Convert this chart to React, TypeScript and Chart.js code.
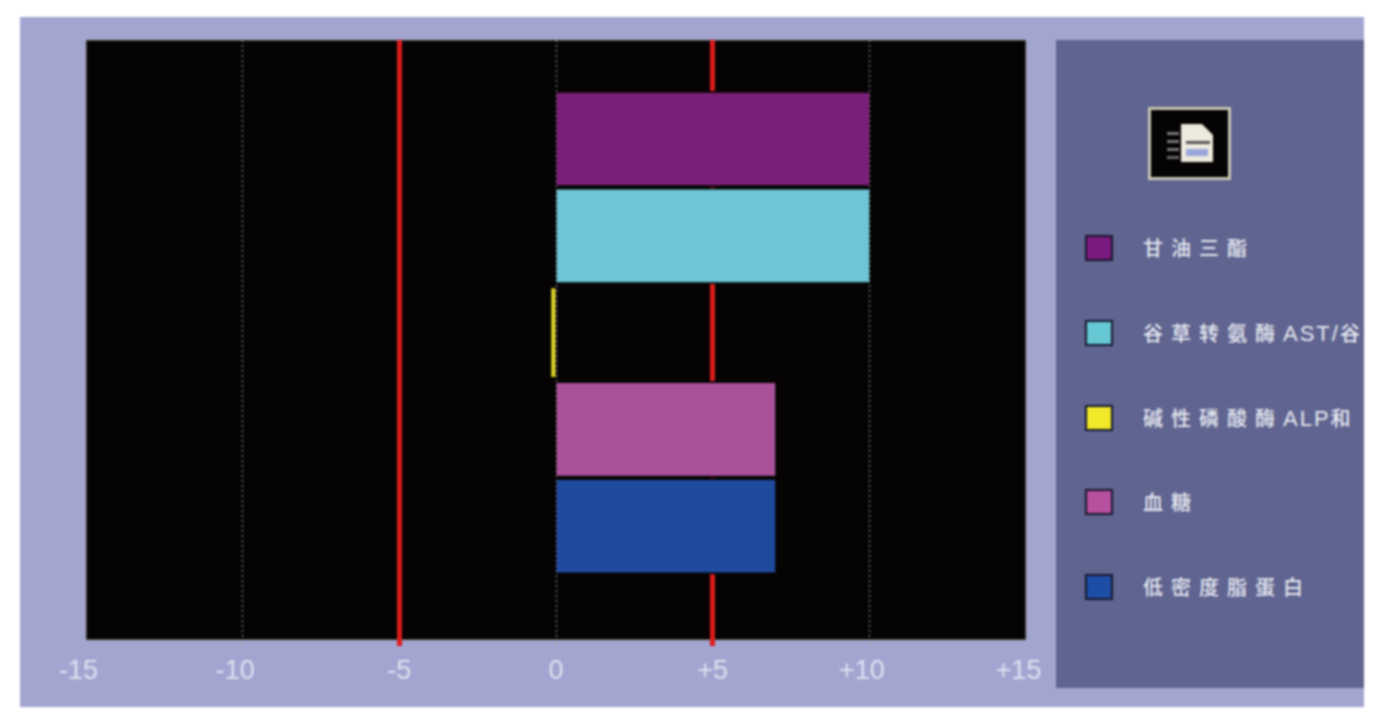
import React, { useEffect, useRef } from "react";
import { Chart, registerables } from "chart.js";

Chart.register(...registerables);

const legendLabels = ["甘油三酯", "谷草转氨酶AST/谷", "碱性磷酸酶ALP和", "血糖", "低密度脂蛋白"];
const seriesValues = [10, 10, -0.15, 7, 7];
const barColors = ["#7a1f78", "#6dc5d6", "#e6dc28", "#ab519b", "#1f4a9e"];
const swatchColors = ["#7c1a80", "#66c8d4", "#f0e828", "#b850a0", "#1c4ea8"];
const xTicks = [-15, -10, -5, 0, 5, 10, 15];

const tickText = (v: number) => {
  const s = v > 0 ? `+${v}` : `${v}`;
  return Math.abs(v) >= 10 ? `${s}  ` : s;
};

const plotBackground = {
  id: "plotBackground",
  beforeDraw(chart: any) {
    const { ctx, chartArea: a } = chart;
    ctx.save();
    ctx.fillStyle = "#050303";
    ctx.fillRect(a.left, a.top, a.right - a.left, a.bottom - a.top);
    ctx.strokeStyle = "#8a8a92";
    ctx.lineWidth = 1;
    ctx.strokeRect(a.left, a.top, a.right - a.left, a.bottom - a.top);
    ctx.restore();
  },
};

function LegendText({ text }: { text: string }) {
  const runs = text.match(/[\u4e00-\u9fff]+|[^\u4e00-\u9fff]+/g) || [];
  return (
    <>
      {runs.map((r, i) => (
        <span
          key={i}
          style={
            /[\u4e00-\u9fff]/.test(r)
              ? { letterSpacing: 8, fontWeight: 500 }
              : { letterSpacing: 2, fontSize: 22, fontFamily: "'Liberation Sans', sans-serif" }
          }
        >
          {r}
        </span>
      ))}
    </>
  );
}

export default function App() {
  const ref = useRef<HTMLCanvasElement>(null);
  useEffect(() => {
    const chart = new Chart(ref.current!, {
      type: "bar",
      plugins: [plotBackground],
      data: {
        datasets: [
          {
            data: seriesValues.map((x, y) => ({ x, y })),
            backgroundColor: barColors,
            borderColor: "#050303",
            borderSkipped: false,
            borderWidth: (c: any) => {
              const edge = c.dataIndex === 2 ? 4 : 2;
              return { top: edge, bottom: edge, left: 0, right: 0 };
            },
            barThickness: 96,
          },
        ],
      },
      options: {
        indexAxis: "y",
        animation: false,
        responsive: false,
        layout: { padding: { left: 86, right: 361, top: 40, bottom: 0 } },
        plugins: { legend: { display: false }, tooltip: { enabled: false } },
        scales: {
          y: { type: "linear", offset: false, reverse: true, min: -1.023, max: 5.175, display: false },
          x: {
            type: "linear",
            min: -15,
            max: 15,
            afterBuildTicks: (s: any) => {
              s.ticks = xTicks.map((value) => ({ value }));
            },
            afterFit: (s: any) => {
              s.height = 82;
            },
            ticks: {
              color: "#dfe2f0",
              font: { family: "'Liberation Sans', Arial, sans-serif", size: 27 },
              padding: 9,
              maxRotation: 0,
              autoSkip: false,
              callback: (v: any) => tickText(Number(v)),
            },
            border: {
              display: false,
              dash: (c: any) => (Math.abs(c.tick?.value) === 5 ? [] : [2, 3]),
            },
            grid: {
              drawTicks: true,
              tickLength: 6,
              color: (c: any) => {
                const v = Math.abs(c.tick?.value);
                return v === 5 ? "#dc1c1c" : v === 15 ? "rgba(0,0,0,0)" : "#a8a8a8";
              },
              lineWidth: (c: any) => (Math.abs(c.tick?.value) === 5 ? 5 : 1),
            },
          },
        },
      } as any,
    });
    return () => chart.destroy();
  }, []);

  const legendYs = [248, 333, 418, 502, 587];
  return (
    <div style={{ position: "fixed", left: 0, top: 0, width: 1387, height: 722, background: "#fff", overflow: "hidden", filter: "blur(1px)" }}>
      <div style={{ position: "absolute", left: 20, top: 17, width: 1344, height: 690, background: "#a3a5d1" }} />
      <div style={{ position: "absolute", left: 1056, top: 40, width: 308, height: 648, background: "#5f6490", overflow: "hidden", fontFamily: "'Noto Sans CJK SC', 'Liberation Sans', sans-serif" }}>
        <svg style={{ position: "absolute", left: 92, top: 67 }} width="83" height="73" viewBox="0 0 83 73">
          <rect x="1.5" y="1.5" width="80" height="70" fill="#050303" stroke="#c9c6b4" strokeWidth="3" />
          <path d="M33 17H54L65 28V55H33Z" fill="#eceadd" />
          <rect x="38" y="34" width="24" height="3" fill="#555" />
          <rect x="38" y="42" width="22" height="7" fill="#98a6dc" />
          <rect x="19" y="25" width="12" height="3" fill="#777" />
          <rect x="19" y="33" width="12" height="3" fill="#777" />
          <rect x="19" y="41" width="12" height="3" fill="#777" />
          <rect x="19" y="49" width="12" height="3" fill="#666" />
        </svg>
        {legendLabels.map((label, i) => (
          <React.Fragment key={label}>
            <div style={{ position: "absolute", left: 29, top: legendYs[i] - 40 - 13, width: 24, height: 22, background: swatchColors[i], border: "2px solid #17172c" }} />
            <div style={{ position: "absolute", left: 87, top: legendYs[i] - 40 - 15, height: 30, lineHeight: "30px", fontSize: 20, color: "#e8eaf2", whiteSpace: "nowrap" }}>
              <LegendText text={label} />
            </div>
          </React.Fragment>
        ))}
      </div>
      <canvas ref={ref} width={1387} height={722} style={{ position: "absolute", left: 0, top: 0, display: "block" }} />
    </div>
  );
}
